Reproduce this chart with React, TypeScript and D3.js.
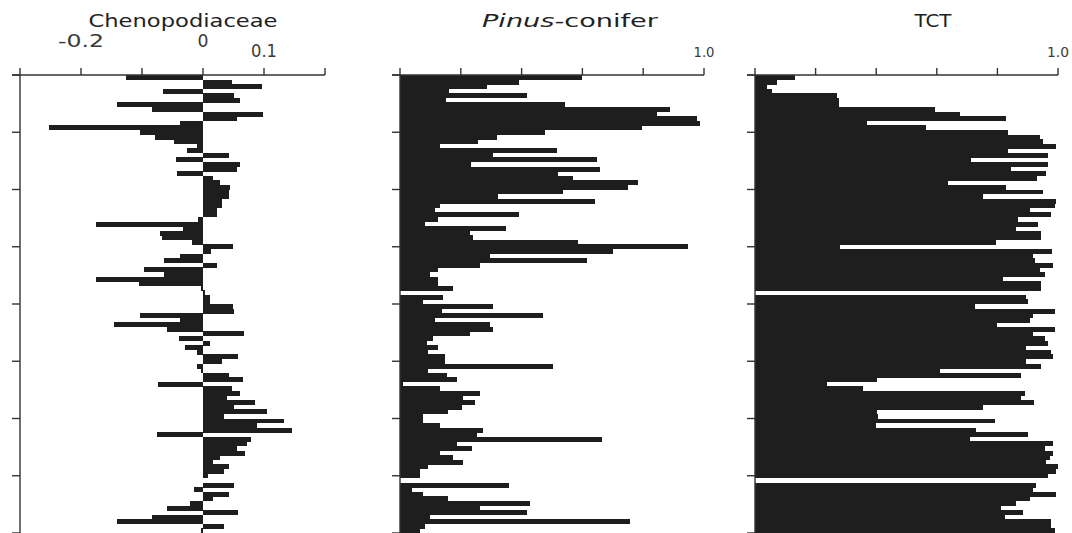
import React, { useEffect, useRef } from 'react';
import * as d3 from 'd3';

// one value per sample, top of the core to the bottom
const chenopodiaceae = [
  -0.127, 0.048, 0.097, -0.066, 0.05, 0.061, -0.141, -0.084, 0.099, 0.056,
  -0.037, -0.253, -0.103, -0.078, -0.048, -0.01, -0.026, 0.042, -0.045, 0.061,
  0.056, -0.043, 0.017, 0.028, 0.045, 0.042, 0.042, 0.031, 0.031, 0.023,
  0.023, -0.009, -0.176, -0.032, -0.07, -0.067, -0.018, 0.049, 0.013, -0.037,
  -0.064, 0.023, -0.097, -0.064, -0.176, -0.105, -0.004, 0.003, 0.012, 0.012,
  0.049, 0.05, -0.103, -0.037, -0.146, -0.059, 0.067, -0.04, 0.012, -0.029,
  -0.01, 0.057, 0.031, -0.01, -0.004, 0.042, 0.066, -0.073, 0.048, 0.061,
  0.039, 0.086, 0.05, 0.105, 0.034, 0.132, 0.089, 0.146, -0.075, 0.078,
  0.072, 0.056, 0.069, 0.028, 0.017, 0.042, 0.034, 0.009, 0, 0.05,
  -0.015, 0.042, 0.017, -0.021, -0.059, 0.057, -0.084, -0.141, 0.034, -0.004,
];

const pinusConifer = [
  0.6, 0.39, 0.285, 0.16, 0.417, 0.15, 0.543, 0.888, 0.844, 0.976,
  0.987, 0.795, 0.477, 0.318, 0.258, 0.13, 0.515, 0.307, 0.647, 0.235,
  0.658, 0.52, 0.57, 0.784, 0.75, 0.537, 0.323, 0.641, 0.13, 0.115,
  0.393, 0.126, 0.082, 0.349, 0.23, 0.241, 0.587, 0.948, 0.7, 0.296,
  0.614, 0.263, 0.126, 0.1, 0.126, 0.126, 0.175, 0, 0.143, 0.077,
  0.307, 0.137, 0.471, 0.115, 0.296, 0.307, 0.23, 0.11, 0.088, 0.126,
  0.093, 0.148, 0.148, 0.504, 0.093, 0.153, 0.189, 0.01, 0.13, 0.263,
  0.208, 0.247, 0.203, 0.159, 0.075, 0.075, 0.13, 0.274, 0.252, 0.663,
  0.186, 0.236, 0.13, 0.173, 0.208, 0.093, 0.066, 0.066, 0, 0.36,
  0.038, 0.077, 0.159, 0.428, 0.263, 0.417, 0.1, 0.757, 0.082, 0.066,
];

const tct = [
  0.132, 0.071, 0.04, 0.055, 0.271, 0.278, 0.278, 0.593, 0.676, 0.83,
  0.368, 0.566, 0.835, 0.94, 0.95, 0.992, 0.835, 0.967, 0.714, 0.967,
  0.846, 0.96, 0.93, 0.637, 0.83, 0.95, 0.753, 0.995, 0.99, 0.907,
  0.978, 0.868, 0.934, 0.863, 0.945, 0.945, 0.797, 0.28, 0.981, 0.918,
  0.923, 0.984, 0.94, 0.956, 0.819, 0.945, 0.945, 0, 0.896, 0.9,
  0.725, 0.989, 0.918, 0.907, 0.8, 0.989, 0.918, 0.956, 0.967, 0.896,
  0.978, 0.984, 0.896, 0.945, 0.61, 0.879, 0.401, 0.236, 0.357, 0.89,
  0.879, 0.92, 0.753, 0.401, 0.406, 0.791, 0.4, 0.73, 0.9, 0.71,
  0.984, 0.956, 0.984, 0.973, 0.962, 1.0, 0.995, 0.967, 0, 0.929,
  0.918, 0.995, 0.907, 0.863, 0.813, 0.885, 0.824, 0.978, 0.978, 0.989,
];

const chenoTicks = [-0.3, -0.2, -0.1, 0, 0.1, 0.2];
const fracTicks = [0, 0.2, 0.4, 0.6, 0.8, 1.0];
const depthTicks = d3.range(0, 9);

const App = () => {
  const ref = useRef<SVGSVGElement>(null);

  useEffect(() => {
    document.body.style.margin = '0';
    const svg = d3.select(ref.current);
    svg.selectAll('*').remove();

    const font = '"DejaVu Sans", Verdana, sans-serif';
    const ink = '#1e1e1e';
    const axisInk = '#333';

    const y = d3.scaleBand<number>()
      .domain(d3.range(chenopodiaceae.length))
      .range([75, 533]);
    const depth = d3.scaleLinear().domain([0, 8]).range([75, 533]);

    const panels = [
      {
        values: chenopodiaceae, domain: [-0.3, 0.2], range: [20, 325], ticks: chenoTicks,
        title: 'Chenopodiaceae', titleX: 183, titleW: 189,
        labels: [
          { v: -0.2, t: '-0.2', y: 47, size: 18, w: 46 },
          { v: 0, t: '0', y: 47, size: 18, w: 11 },
          { v: 0.1, t: '0.1', y: 57, size: 18, w: 26 },
        ],
      },
      {
        values: pinusConifer, domain: [0, 1], range: [400, 704], ticks: fracTicks,
        title: 'Pinus-conifer', titleX: 570, titleW: 176,
        labels: [{ v: 1, t: '1.0', y: 57, size: 14, w: 21 }],
      },
      {
        values: tct, domain: [0, 1], range: [755, 1058], ticks: fracTicks,
        title: 'TCT', titleX: 933, titleW: 37,
        labels: [{ v: 1, t: '1.0', y: 57, size: 14, w: 22 }],
      },
    ];

    panels.forEach(p => {
      const x = d3.scaleLinear().domain(p.domain).range(p.range);
      const g = svg.append('g');

      // bars
      g.append('g')
        .attr('shape-rendering', 'crispEdges')
        .selectAll('rect')
        .data(p.values)
        .join('rect')
          .attr('x', d => Math.min(x(0), x(d)))
          .attr('y', (d, i) => y(i)!)
          .attr('width', d => Math.abs(x(d) - x(0)))
          .attr('height', y.bandwidth() + 0.4)
          .attr('fill', ink);

      // top axis
      g.append('line')
        .attr('x1', p.range[0] - 8).attr('x2', p.range[1])
        .attr('y1', 75).attr('y2', 75)
        .attr('stroke', axisInk).attr('stroke-width', 1.4);
      g.selectAll('line.tt')
        .data(p.ticks)
        .join('line')
          .attr('class', 'tt')
          .attr('x1', d => x(d)).attr('x2', d => x(d))
          .attr('y1', 68).attr('y2', 75)
          .attr('stroke', axisInk).attr('stroke-width', 1.4);

      // left depth axis
      g.append('line')
        .attr('x1', p.range[0]).attr('x2', p.range[0])
        .attr('y1', 75).attr('y2', 533)
        .attr('stroke', axisInk).attr('stroke-width', 1.4);
      g.selectAll('line.lt')
        .data(depthTicks)
        .join('line')
          .attr('class', 'lt')
          .attr('x1', p.range[0] - 8).attr('x2', p.range[0])
          .attr('y1', d => depth(d)).attr('y2', d => depth(d))
          .attr('stroke', axisInk).attr('stroke-width', 1.4);

      // tick labels
      g.selectAll('text.lab')
        .data(p.labels)
        .join('text')
          .attr('class', 'lab')
          .attr('x', d => x(d.v))
          .attr('y', d => d.y)
          .attr('text-anchor', 'middle')
          .attr('font-family', font)
          .attr('font-size', d => d.size)
          .attr('textLength', d => d.w)
          .attr('lengthAdjust', 'spacingAndGlyphs')
          .attr('fill', '#3a3a3a')
          .text(d => d.t);

      // title
      const title = g.append('text')
        .attr('x', p.titleX)
        .attr('y', 27)
        .attr('text-anchor', 'middle')
        .attr('font-family', font)
        .attr('font-size', 17)
        .attr('fill', '#222')
        .attr('textLength', p.titleW)
        .attr('lengthAdjust', 'spacingAndGlyphs');
      if (p.title === 'Pinus-conifer') {
        title.append('tspan').attr('font-style', 'italic').text('Pinus');
        title.append('tspan').text('-conifer');
      } else {
        title.text(p.title);
      }
    });
  }, []);

  return <svg ref={ref} width={1072} height={533} style={{ display: 'block', background: '#fff' }} />;
};

export default App;
